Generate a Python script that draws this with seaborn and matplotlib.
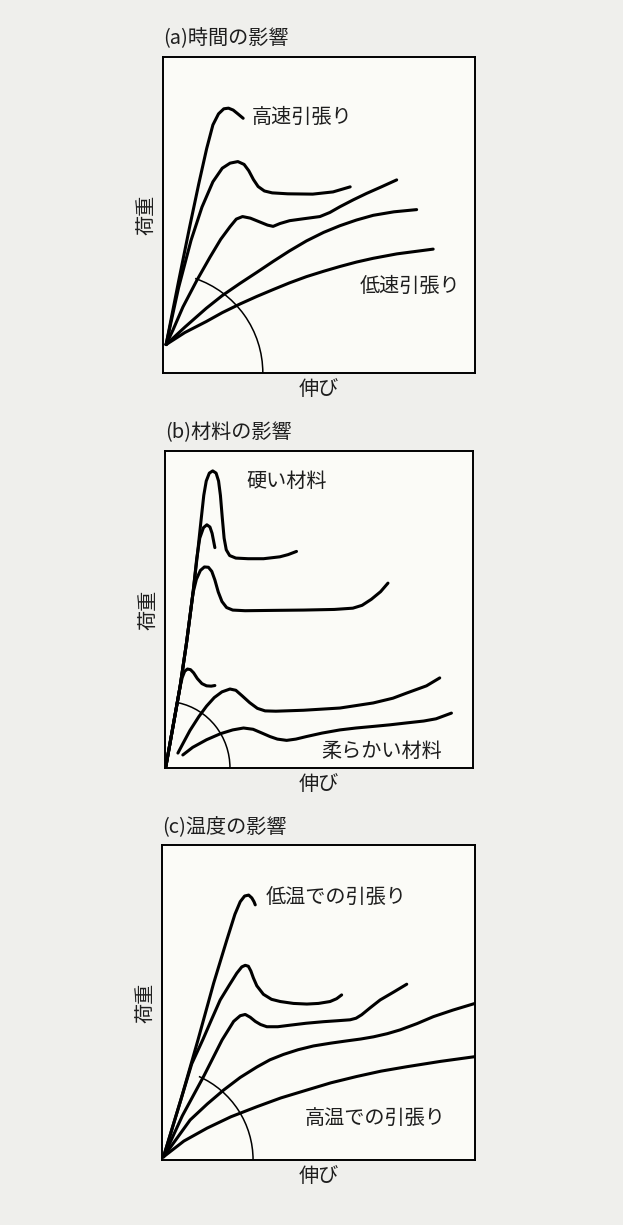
import pandas as pd
import seaborn as sns
import matplotlib.pyplot as plt
from matplotlib.patches import Arc

# (a) 時間の影響 -- load vs. elongation, x/y in % of the frame
A_FAST = [(1, 9), (5, 29), (8.5, 46), (11.5, 60), (14, 71), (16, 78.5), (17.8, 82),
          (19.5, 83.6), (21, 83.8), (22.5, 83.2), (24, 82), (25.7, 80.6)]
A_MID1 = [(1, 9), (5, 27), (9, 42), (12.5, 52.5), (16, 60.5), (19, 64.8), (21.5, 66.4),
          (24, 66.9), (26, 66), (27.5, 64), (29, 61.2), (30.5, 59), (32.5, 57.6),
          (35, 57), (40, 56.7), (48, 56.6), (54.5, 57.3), (60, 58.9)]
A_MID2 = [(1, 9), (3.2, 13.6), (6.4, 20.9), (10.9, 29.4), (15.1, 36.7), (18.5, 42.3),
          (21.5, 46.3), (23.5, 48.7), (25.5, 49.5), (28, 49), (31, 47.8), (33.5, 46.8),
          (35.3, 46.4), (37.5, 47.3), (40.6, 48.2), (45, 48.8), (50.3, 49.5),
          (53.5, 50.8), (56.7, 52.6), (61, 54.8), (65.2, 56.8), (70, 58.9), (74.9, 61.1)]
A_MID3 = [(1, 9), (7, 14.5), (13.9, 20.5), (19, 24.5), (24.6, 28.3), (30, 31.8),
          (35.3, 35.3), (40.5, 38.6), (46, 41.8), (51.5, 44.5), (56.7, 46.6),
          (62, 48.4), (67.4, 49.9), (74, 51), (81.3, 51.7)]
A_SLOW = [(1, 9), (7, 12.8), (13.9, 16.3), (19, 19.1), (24.6, 21.8), (30, 24.2),
          (35.3, 26.4), (40.5, 28.5), (46, 30.5), (51.5, 32.2), (56.7, 33.7),
          (62, 35.1), (67.4, 36.3), (75, 37.7), (86.6, 39.2)]

# (b) 材料の影響
B_HARD = [(0.3, 0.5), (2.5, 12.5), (4.9, 25.6), (7, 39.5), (9.1, 55.2), (10.5, 67),
          (11.7, 78), (12.6, 86), (13.4, 90.5), (14.4, 93), (15.5, 93.7), (16.6, 93),
          (17.4, 90.5), (18, 86), (18.6, 79), (19.2, 72.5), (19.9, 68.8), (21, 67),
          (23, 66.2), (27, 66), (32, 66), (37.3, 66.6), (40, 67.3), (42.7, 68.3)]
B_MID1 = [(0.3, 0.5), (2.5, 12.5), (4.9, 25.6), (7, 39.5), (9.1, 55.2), (10.3, 66),
          (11.3, 72.5), (12.5, 75.8), (13.6, 76.7), (14.6, 76), (15.3, 74),
          (15.8, 71.5), (16.2, 69.5)]
B_MID2 = [(0.3, 0.5), (2.5, 12.5), (4.9, 25.6), (7, 39.5), (9.1, 55.2), (10.2, 59.5),
          (11.5, 62.3), (12.8, 63.4), (14.1, 63.3), (15.2, 62), (16.2, 59.3),
          (17.3, 55.5), (18.5, 52.5), (20, 50.6), (22, 49.8), (26, 49.6), (35, 49.7),
          (45, 49.8), (55, 50), (61, 50.4), (64, 51.3), (67, 53.2), (70, 55.6),
          (72.4, 58.3)]
B_MID3 = [(0.3, 0.5), (2.5, 12.5), (4.9, 25.6), (5.6, 28.5), (6.4, 30.5), (7.3, 31.2),
          (8.3, 31), (9.3, 30), (10.5, 28.2), (12, 26.6), (13.5, 25.9), (15, 25.8),
          (16.2, 26)]
B_MID4 = [(4.2, 4.7), (6, 8), (8.1, 11.8), (11, 16.2), (13.5, 19.5), (16, 22.2),
          (18.5, 24), (21.1, 24.9), (23, 24.5), (25, 22.8), (27.5, 20.6), (30, 18.8),
          (32.5, 18), (36, 17.9), (45, 18.2), (56.8, 18.9), (67.6, 20.5), (74, 22),
          (78.4, 23.6), (84.9, 25.9), (89.2, 28.4)]
B_SOFT = [(5.8, 4.1), (9, 6.5), (13.5, 8.9), (18, 10.8), (22, 12), (25.5, 12.6),
          (28.6, 12.2), (31.5, 11), (34.1, 9.9), (36.5, 9.1), (39.5, 8.7), (42.5, 9.1),
          (45.9, 9.9), (51, 11), (56.8, 12), (62, 12.6), (67.6, 13.1), (73, 13.6),
          (78.4, 14.2), (84, 14.8), (88, 15.5), (93, 17.3)]

# (c) 温度の影響
C_COLD = [(0.5, 1), (6, 19), (11.5, 38.1), (16.5, 56.1), (20.7, 69.8), (23.3, 78),
          (25, 82), (26.4, 83.8), (27.7, 84.1), (28.7, 83.2), (29.4, 82), (29.8, 81)]
C_MID1 = [(0.5, 1), (6, 19), (9.5, 30.5), (13.1, 38.3), (15.8, 44.5), (18.6, 50.8),
          (21.5, 55.5), (23.9, 59.3), (25.5, 61.3), (26.6, 61.8), (27.6, 61.5),
          (28.4, 60), (29.2, 57.8), (30.3, 55.3), (32.4, 52.6), (35, 51), (37.8, 50.3),
          (42, 49.7), (46.3, 49.5), (50, 49.7), (53.7, 50.3), (55.8, 51.2), (57.4, 52.4)]
C_MID2 = [(0.5, 1), (6.5, 14), (13.4, 26.7), (19.2, 38.1), (22.9, 44), (25, 45.8),
          (26.6, 46.2), (28.2, 45.3), (29.8, 44), (31.5, 43), (33.5, 42.3), (37, 42.3),
          (41, 42.8), (46, 43.4), (51.6, 43.9), (56, 44.2), (60.1, 44.5), (62, 45),
          (63.8, 46.1), (66.5, 48.3), (69.7, 50.8), (74, 53.3), (78.2, 55.8)]
C_MID3 = [(0.5, 1), (9, 12.7), (14.5, 17.8), (19.7, 22.2), (25, 26.2), (30.3, 29.5),
          (34.5, 31.8), (38.8, 33.5), (43.5, 35), (48.4, 36.2), (54, 37.1), (59, 37.8),
          (63.5, 38.4), (67.6, 39.1), (72, 40.1), (76.1, 41.3), (81.5, 43.3),
          (86.7, 45.5), (93, 47.6), (100, 49.7)]
C_HOT = [(0.5, 1), (7, 6), (14.4, 10.1), (22, 13.7), (30.3, 16.9), (38, 19.7),
         (46.3, 22.2), (54, 24.5), (62.2, 26.5), (70, 28.2), (78.2, 29.6), (89, 31.3),
         (100, 32.8)]

TITLES = ["(a)時間の影響", "(b)材料の影響", "(c)温度の影響"]
LABELS = [("高速引張り", "低速引張り"), ("硬い材料", "柔らかい材料"),
          ("低温での引張り", "高温での引張り")]
X_LABEL = "伸び"
Y_LABEL = "荷重"

sns.set_theme(style="white")
plt.rcParams["font.family"] = ["Noto Sans CJK JP", "DejaVu Sans"]

PAPER = "#efefec"
FRAME_FACE = "#fbfbf7"
INK = "#1e1e1e"
FS = 14.5


def to_frame(curves):
    rows = []
    for i, pts in enumerate(curves):
        for x, y in pts:
            rows.append({"curve": i, "x": x, "y": y})
    return pd.DataFrame(rows)


def draw_panel(ax, curves, arc, title, labels, label_pos):
    df = to_frame(curves)
    sns.lineplot(data=df, x="x", y="y", units="curve", estimator=None, sort=False,
                 color="black", linewidth=2.2, ax=ax, legend=False,
                 solid_capstyle="round", solid_joinstyle="round")
    rx, ry, end_angle = arc
    ax.add_patch(Arc((0, 0), 2 * rx, 2 * ry, theta1=0, theta2=end_angle,
                     color="black", linewidth=1.1))
    for text, (x, y) in zip(labels, label_pos):
        ax.text(x, y, text, fontsize=FS, ha="left", va="center", color=INK)
    ax.text(0, 1.025, title, transform=ax.transAxes, fontsize=FS,
            ha="left", va="bottom", color=INK)
    ax.set_xlim(0, 100)
    ax.set_ylim(0, 100)
    ax.set_xticks([])
    ax.set_yticks([])
    ax.set_xlabel(X_LABEL, fontsize=FS, labelpad=4, color=INK)
    ax.set_ylabel(Y_LABEL, fontsize=FS, labelpad=3, color=INK)
    ax.set_facecolor(FRAME_FACE)
    for side in ax.spines.values():
        side.set_visible(True)
        side.set_color("black")
        side.set_linewidth(1.4)


fig = plt.figure(figsize=(6.23, 12.25), dpi=100, facecolor=PAPER)
ax_a = fig.add_axes([0.2616, 0.6955, 0.5008, 0.2580])
ax_b = fig.add_axes([0.2648, 0.3731, 0.4944, 0.2588])
ax_c = fig.add_axes([0.2600, 0.0531, 0.5024, 0.2571])

draw_panel(ax_a, [A_FAST, A_MID1, A_MID2, A_MID3, A_SLOW], (32, 31.6, 71),
           TITLES[0], LABELS[0], [(28.3, 81), (63.1, 27.4)])
draw_panel(ax_b, [B_HARD, B_MID1, B_MID2, B_MID3, B_MID4, B_SOFT], (21.1, 21, 78),
           TITLES[1], LABELS[1], [(26.5, 90.3), (50.8, 5.3)])
draw_panel(ax_c, [C_COLD, C_MID1, C_MID2, C_MID3, C_HOT], (29.1, 29, 66),
           TITLES[2], LABELS[2], [(33.0, 83.1), (45.7, 13.2)])

fig.savefig("out.png", dpi=100, facecolor=PAPER)
